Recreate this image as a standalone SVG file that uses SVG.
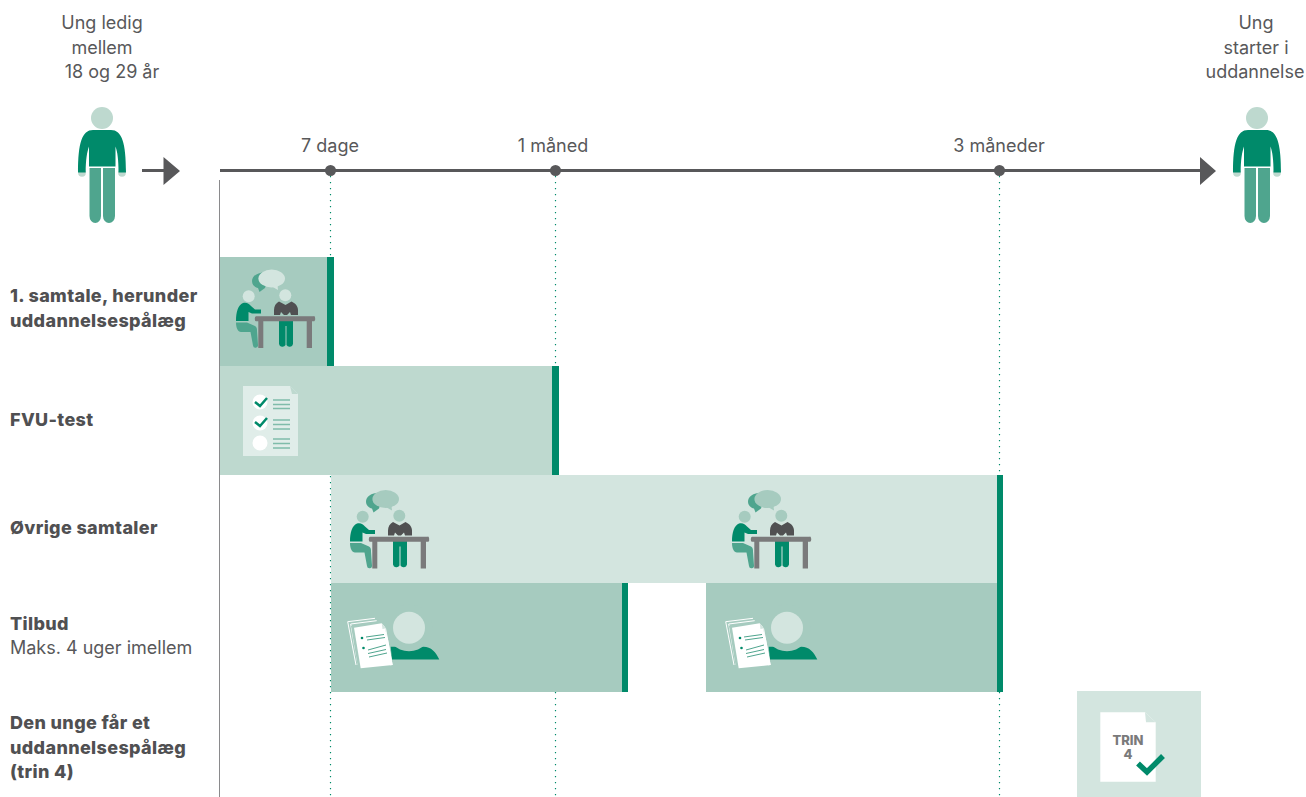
<svg xmlns="http://www.w3.org/2000/svg" xmlns:xlink="http://www.w3.org/1999/xlink" width="1306" height="797" viewBox="0 0 1306 797">
<style>
text{font-family:"Inter","Liberation Sans",sans-serif;fill:#58585a;font-size:18px}
.c{text-anchor:middle}
.b{font-weight:800;fill:#505052;letter-spacing:.35px}
.dot{stroke:#008a6a;stroke-width:1.2;stroke-dasharray:1.2 4.8;fill:none}
.axis{stroke:#58585a;stroke-width:3;fill:none}
.tip{fill:#58585a}
.mark{fill:#008a6a}
.r1{fill:#a6cbbf}.r2{fill:#bed9cf}.r3{fill:#d3e5df}
.t{font-size:13px;font-weight:800;fill:#7a7a7b}
</style>
<defs>
<g id="person">
<circle cx="102" cy="118" r="11" fill="#bed9cf"/>
<circle cx="82" cy="173" r="3.800" fill="#bed9cf"/><circle cx="122" cy="173" r="3.800" fill="#bed9cf"/>
<path fill="#008a6a" d="M93,130H111C122,130 126,143 126,172.500H118.500C118.500,160 117.500,152 115.500,146.500V166.500H89V146.500C87,152 85.700,160 85.700,172.500H78C78,143 82,130 93,130Z"/>
<path fill="#4fa58e" d="M89.500,168H101V216A5.700,7 0 0 1 89.500,216ZM103,168H115V216A6,7 0 0 1 103,216Z"/>
</g>
<g id="meet">
<path fill="#4fa58e" d="M270,272.500C258,271 252,276 252,281C252,285 255,287.500 258,288L259.500,292L265,288Z"/>
<ellipse cx="271.700" cy="278.500" rx="13.300" ry="9" fill="currentColor"/>
<path fill="currentColor" d="M271,286L278,290L277.500,285Z"/>
<circle cx="248.700" cy="296.200" r="6" fill="currentColor"/>
<circle cx="285.300" cy="295.200" r="6" fill="currentColor"/>
<path fill="#008a6a" d="M236,321C236,312 238,305 243,303C247,302 249,304 251,306L255,309.500H261V313.500H252L248.500,312V321Z"/>
<path fill="#4fa58e" d="M236,322.500H247L255,326C257,327 257,329 257,331L258,345A2.500,2.500 0 0 1 253,345.500L250.500,332H241C238,332 236,328 236,322.500Z"/>
<path fill="#505052" d="M279,301.500L285.500,305L291.500,301.500C295,303 298,306 298,310V315H291L290,312L287,315H284L281,312L280,315H274V310C274,306 276,303 279,301.500Z"/>
<path fill="#008a6a" d="M279,320H293V344A3.500,3.500 0 0 1 286.500,345V326H285.500V345A3.500,3.500 0 0 1 279,344Z"/>
<path fill="#7a7a7b" d="M256,316.200H313.500A1,2 0 0 1 314.300,321.200H312V348H306.700V321.200H263.300V348H258.300V321.200H256A1,2 0 0 1 256,316.200Z"/>
</g>
<g id="offer">
<path fill="none" stroke="#fff" stroke-width="1" d="M356,665L347.700,621.700L375,618.300M358,665L350.700,624L376.700,620.700"/>
<path fill="#a6cbbf" d="M351,626L378,622L382,660L358,668Z"/>
<path fill="#fff" d="M354,627.700L381.700,623.300L386,628.300L392.700,665L360.700,668.300Z"/>
<path fill="#d3e5df" d="M381.700,623.300L386,628.300L382.500,629Z"/>
<circle cx="362" cy="638" r="1.300" fill="#008a6a"/><circle cx="363.500" cy="648" r="1.300" fill="#008a6a"/>
<path fill="none" stroke="#4fa58e" stroke-width="1" d="M366,637L384,634.500M367,640L385,637.500M368,650L386,645M368,653.500L386,649.500M369,657L387,653"/>
<path fill="#008a6a" d="M390.700,646.700H423C431,646.500 436,652 439.300,659.500H392Z"/>
<circle cx="409" cy="627.700" r="23.500" fill="#a6cbbf"/>
<circle cx="409" cy="627.700" r="16" fill="#d3e5df"/>
<path fill="#fff" d="M385.500,628.300L386,628.300L392.700,665L390,665.200Z"/>
</g>
</defs>
<g id="connectors">
<line x1="219.500" y1="180" x2="219.500" y2="797" stroke="#8a8a8c" stroke-width="1"/>
<path class="dot" d="M330.500,176V797M555.500,176V797M999.500,176V797"/>
</g>
<g id="timeline">
<path class="axis" d="M220,170.500H1201M142,170.500H165"/>
<path class="tip" d="M163.500,157L180,171L163.500,185ZM1200,157L1216,171L1200,185Z"/>
<circle class="tip" cx="330.500" cy="170.500" r="5.500"/><circle class="tip" cx="555.500" cy="170.500" r="5.500"/><circle class="tip" cx="999.500" cy="170.500" r="5.500"/>
<text class="c" x="330" y="152">7 dage</text><text class="c" x="553" y="152">1 måned</text><text class="c" x="999" y="152">3 måneder</text>
</g>
<g id="start"><use xlink:href="#person" href="#person"/>
<text class="c" x="102" y="29">Ung ledig</text><text class="c" x="102" y="54">mellem</text><text class="c" x="112" y="78">18 og 29 år</text></g>
<g id="end"><use xlink:href="#person" href="#person" x="1155"/>
<text class="c" x="1256" y="29">Ung</text><text class="c" x="1256" y="54">starter i</text><text class="c" x="1255" y="78">uddannelse</text></g>
<g id="samtale1"><rect class="r1" x="220" y="257" width="108" height="109"/><rect class="mark" x="327" y="257" width="7" height="109"/><use xlink:href="#meet" href="#meet" style="color:#d3e5df"/>
<text class="b" x="10" y="302">1. samtale, herunder</text><text class="b" x="10" y="327">uddannelsespålæg</text></g>
<g id="fvu"><rect class="r2" x="220" y="366" width="333" height="109"/><rect class="mark" x="552" y="366" width="7" height="109"/>
<path fill="#e0ede9" d="M243,386H290L298,394V456H243Z"/><path fill="#bed9cf" d="M290,386L298,394H292Z"/>
<circle cx="260" cy="402" r="7.500" fill="#fff"/><circle cx="260" cy="423" r="7.500" fill="#fff"/><circle cx="260" cy="443" r="7.500" fill="#fff"/>
<path fill="none" stroke="#008a6a" stroke-width="2.500" d="M255,402L260,406L267,398M255,422L260,426L267,418"/>
<path fill="none" stroke="#7fbcaa" stroke-width="1.300" d="M273,400H290M273,404.500H290M273,408.500H290M273,420H290M273,424.500H290M273,429H290M273,439H290M273,443.500H290M273,448H290"/>
<text class="b" x="10" y="426">FVU-test</text></g>
<g id="ovrige"><rect class="r3" x="331" y="475" width="667" height="108"/><rect class="mark" x="997" y="475" width="6" height="108"/>
<use xlink:href="#meet" href="#meet" x="114" y="220.500" style="color:#a6cbbf"/><use xlink:href="#meet" href="#meet" x="496" y="220.500" style="color:#a6cbbf"/>
<text class="b" x="10" y="534">Øvrige samtaler</text></g>
<g id="tilbud"><rect class="r1" x="331" y="583" width="292" height="109"/><rect class="mark" x="622" y="583" width="6" height="109"/>
<rect class="r1" x="706" y="583" width="292" height="109"/><rect class="mark" x="997" y="583" width="6" height="109"/>
<use xlink:href="#offer" href="#offer"/><use xlink:href="#offer" href="#offer" x="378"/>
<text class="b" x="10" y="630">Tilbud</text><text x="10" y="654">Maks. 4 uger imellem</text></g>
<g id="plan"><rect class="r3" x="1077" y="691" width="124" height="106"/>
<path fill="#fff" d="M1100.300,712.300H1145L1155.700,722.300V781.700H1100.300Z"/><path fill="#d3e5df" d="M1145,712.300L1155.700,722.300H1146Z"/>
<text class="c t" x="1128" y="745">TRIN</text><text class="c t" x="1128" y="758.500">4</text>
<path fill="none" stroke="#008a6a" stroke-width="5.500" d="M1138,763.500L1147,772L1163,756"/>
<text class="b" x="10" y="729">Den unge får et</text><text class="b" x="10" y="754">uddannelsespålæg</text><text class="b" x="10" y="778">(trin 4)</text></g>
</svg>
